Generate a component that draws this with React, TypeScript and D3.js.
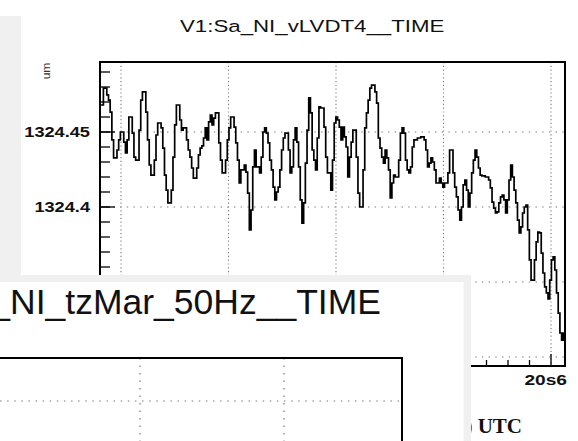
import React from "react";
import * as d3 from "d3";

// ---- data (LVDT reading, um) ----
const segA = [
  1324.468, 1324.468, 1324.4793, 1324.4793, 1324.4747, 1324.4713, 1324.4633, 1324.4447, 1324.4327, 1324.4327,
  1324.438, 1324.4447, 1324.45, 1324.45, 1324.4433, 1324.436, 1324.4447, 1324.46, 1324.46, 1324.4493,
  1324.4333, 1324.4313, 1324.4313, 1324.4513, 1324.4713, 1324.4767, 1324.4767, 1324.4633, 1324.4447, 1324.428,
  1324.4213, 1324.4213, 1324.4313, 1324.448, 1324.456, 1324.456, 1324.4527, 1324.4393, 1324.4213, 1324.4113,
  1324.4027, 1324.4027, 1324.4113, 1324.4333, 1324.4547, 1324.468, 1324.468, 1324.458, 1324.4513, 1324.4527,
  1324.4527, 1324.4447, 1324.438, 1324.4333, 1324.426, 1324.4193, 1324.4193, 1324.426, 1324.4347, 1324.4393,
  1324.4407, 1324.446, 1324.4527, 1324.4447, 1324.4567, 1324.4613, 1324.4547, 1324.4593,
];
const segB = [
  1324.4627, 1324.4627, 1324.4427, 1324.4313, 1324.4227, 1324.4227, 1324.4313, 1324.4447, 1324.4527, 1324.46,
  1324.46, 1324.4533, 1324.4427, 1324.4313, 1324.416, 1324.4247, 1324.4247, 1324.428, 1324.4233, 1324.4093,
  1324.3847, 1324.398, 1324.4267, 1324.438, 1324.4267, 1324.4267, 1324.4227, 1324.4333, 1324.45, 1324.4527,
  1324.4493, 1324.4427, 1324.4313, 1324.4247, 1324.4133, 1324.4047, 1324.41, 1324.4133, 1324.4247, 1324.438,
  1324.446, 1324.4493, 1324.4493, 1324.438, 1324.4227, 1324.4267, 1324.4447, 1324.4527, 1324.4433, 1324.4267,
  1324.4047, 1324.3893, 1324.4027, 1324.4293, 1324.4513, 1324.4727, 1324.4627, 1324.438, 1324.4313, 1324.4247,
  1324.446, 1324.4667, 1324.466, 1324.466, 1324.4533, 1324.4333, 1324.4227, 1324.4227, 1324.4113, 1324.4313,
];
const segC = [
  1324.456, 1324.46, 1324.458, 1324.4533, 1324.4447, 1324.4533, 1324.4467, 1324.44, 1324.42, 1324.4333,
  1324.4433, 1324.4513, 1324.4513, 1324.4333, 1324.4093, 1324.4, 1324.4, 1324.4247, 1324.4527, 1324.4627,
  1324.4713, 1324.4793, 1324.4813, 1324.4813, 1324.4767, 1324.4693, 1324.446, 1324.4393, 1324.4333, 1324.4293,
  1324.438, 1324.4327, 1324.4247, 1324.406, 1324.416, 1324.4213, 1324.42, 1324.42, 1324.4313, 1324.4493,
  1324.4527, 1324.4493, 1324.4313, 1324.4247, 1324.4227, 1324.4267, 1324.44, 1324.4447, 1324.4447, 1324.446,
  1324.446, 1324.4467, 1324.4467, 1324.4447, 1324.438, 1324.4267, 1324.4293, 1324.4327, 1324.43, 1324.4247,
  1324.416, 1324.416, 1324.4193, 1324.416, 1324.4133, 1324.416, 1324.416, 1324.4227, 1324.438,
];
const segD = [
  1324.438, 1324.4227, 1324.4133, 1324.4067, 1324.398, 1324.3913, 1324.4, 1324.4147, 1324.418, 1324.4113,
  1324.4, 1324.4093, 1324.4227, 1324.4313, 1324.438, 1324.4333, 1324.426, 1324.4213, 1324.4207, 1324.4207,
  1324.42, 1324.42, 1324.418, 1324.4127, 1324.4033, 1324.3993, 1324.396, 1324.3967, 1324.4027, 1324.4067,
  1324.408, 1324.4047, 1324.396, 1324.4047, 1324.418, 1324.428, 1324.42, 1324.4113, 1324.4027, 1324.3913,
  1324.3827, 1324.3867, 1324.396, 1324.4, 1324.4013, 1324.3847, 1324.3647, 1324.3513, 1324.3513, 1324.3647,
  1324.3767, 1324.3833, 1324.3827, 1324.3693, 1324.356, 1324.3467, 1324.3427, 1324.3387, 1324.3513, 1324.3647,
  1324.3667, 1324.358, 1324.3427, 1324.3293, 1324.316, 1324.3113, 1324.316,
];
const lvdtValues = [...segA, ...segB, ...segC, ...segD];

const timeStart = -0.9767; // s
const timeEnd = 20.651; // s
const xMajorTicks = [0, 5, 10, 15, 20];
const xMinorTicks = d3.range(0, 21, 1);
const xTickLabels = [{ t: 20, label: "20s6" }];
const yMajorTicks = [1324.3, 1324.35, 1324.4, 1324.45];
const yMajorLabels = ["1324.3", "1324.35", "1324.4", "1324.45"];
const yMinorTicks = d3.range(0, 21).map((i) => 1324.29 + i * 0.01);
const yTitle = "um";
const mainTitle = "V1:Sa_NI_vLVDT4__TIME";
const overlayTitle = "V1:Sa_NI_tzMar_50Hz__TIME";
const utcLabel = ") UTC";

export default function App() {
  const W = 578, H = 441;
  const L = 100, R = 565, T = 62, B = 366;
  const x = d3.scaleLinear().domain([timeStart, timeEnd]).range([L, R]);
  const y = d3.scaleLinear().domain([1324.294, 1324.49667]).range([B, T]);

  const N = lvdtValues.length;
  const dt = (timeEnd - timeStart) / N;
  const pts: [number, number][] = lvdtValues.map((v, i) => [timeStart + i * dt, v]);
  pts.push([timeEnd, lvdtValues[N - 1]]);
  const line = d3
    .line<[number, number]>()
    .x((d) => x(d[0]))
    .y((d) => y(d[1]))
    .curve(d3.curveStepAfter);

  const sans = "'Liberation Sans', Arial, Helvetica, sans-serif";
  const grid = "#7a7a7a";
  const sx = 1.32;

  const oTop = 358, oRight = 402;

  return (
    <svg width={W} height={H} style={{ position: "absolute", left: 0, top: 0, background: "#fff" }}>
      <rect x={0} y={0} width={W} height={H} fill="#fff" />
      <rect x={0} y={16} width={21} height={270} fill="#f0f0f0" />

      <text transform={`translate(180,32) scale(1.35,1)`} fontFamily={sans} fontSize={16.5} fill="#111">
        {mainTitle}
      </text>

      {xMajorTicks.map((t) => (
        <line key={"gx" + t} x1={x(t)} x2={x(t)} y1={T} y2={B} stroke={grid} strokeWidth={1.1} strokeDasharray="1.2 2.6" />
      ))}
      {yMajorTicks.map((v) => (
        <line key={"gy" + v} x1={L} x2={R} y1={y(v)} y2={y(v)} stroke={grid} strokeWidth={1.1} strokeDasharray="1.4 5.3" />
      ))}

      <defs>
        <clipPath id="plotClip">
          <rect x={L} y={T} width={R - L} height={B - T} />
        </clipPath>
      </defs>
      <path d={line(pts) || ""} fill="none" stroke="#000" strokeWidth={1.7} clipPath="url(#plotClip)" />

      {yMinorTicks.map((v, i) =>
        y(v) > T && y(v) < B ? (
          <line key={"ym" + i} x1={L} x2={L + 10} y1={y(v)} y2={y(v)} stroke="#000" strokeWidth={1.3} />
        ) : null
      )}
      {yMajorTicks.map((v) => (
        <line key={"yM" + v} x1={L} x2={L + 15} y1={y(v)} y2={y(v)} stroke="#000" strokeWidth={1.3} />
      ))}
      {xMinorTicks.map((t) => (
        <line key={"xm" + t} x1={x(t)} x2={x(t)} y1={B} y2={B - (xMajorTicks.includes(t) ? 12 : 6)} stroke="#000" strokeWidth={1.3} />
      ))}

      <rect x={L} y={T} width={R - L} height={B - T} fill="none" stroke="#000" strokeWidth={2} />

      {yMajorTicks.map((v, i) => (
        <text
          key={"yl" + v}
          transform={`translate(90,${y(v) + 5}) scale(1.3,1)`}
          textAnchor="end"
          fontFamily={sans}
          fontWeight="bold"
          fontSize={14}
          fill="#111"
        >
          {yMajorLabels[i]}
        </text>
      ))}
      <text transform={`translate(50,71) rotate(-90) scale(1.15,1)`} textAnchor="middle" fontFamily={sans} fontSize={10.5} fill="#333">
        {yTitle}
      </text>

      {xTickLabels.map((d) => (
        <text
          key={"xl" + d.t}
          transform={`translate(${x(d.t) + 16},385) scale(${sx},1)`}
          textAnchor="end"
          fontFamily={sans}
          fontWeight="bold"
          fontSize={14.5}
          fill="#111"
        >
          {d.label}
        </text>
      ))}
      <text x={522} y={433} textAnchor="end" fontFamily="'Liberation Serif', 'Times New Roman', serif" fontWeight="bold" fontSize={21} fill="#111">
        {utcLabel}
      </text>

      <rect x={0} y={275} width={471} height={H - 275} fill="#f0f0f0" />
      <rect x={0} y={282} width={463.5} height={H - 282} fill="#fff" />
      <text x={381} y={314} textAnchor="end" fontFamily={sans} fontSize={35.5} fill="#111">
        {overlayTitle}
      </text>
      {[140, 284].map((gx) => (
        <line key={"ogx" + gx} x1={gx} x2={gx} y1={oTop} y2={H} stroke={grid} strokeWidth={1.2} strokeDasharray="1.5 6" />
      ))}
      <line x1={0} x2={oRight} y1={401} y2={401} stroke={grid} strokeWidth={1.2} strokeDasharray="1.5 5.6" />
      <path d={`M0,${oTop} H${oRight} V${H}`} fill="none" stroke="#000" strokeWidth={2} />
    </svg>
  );
}
